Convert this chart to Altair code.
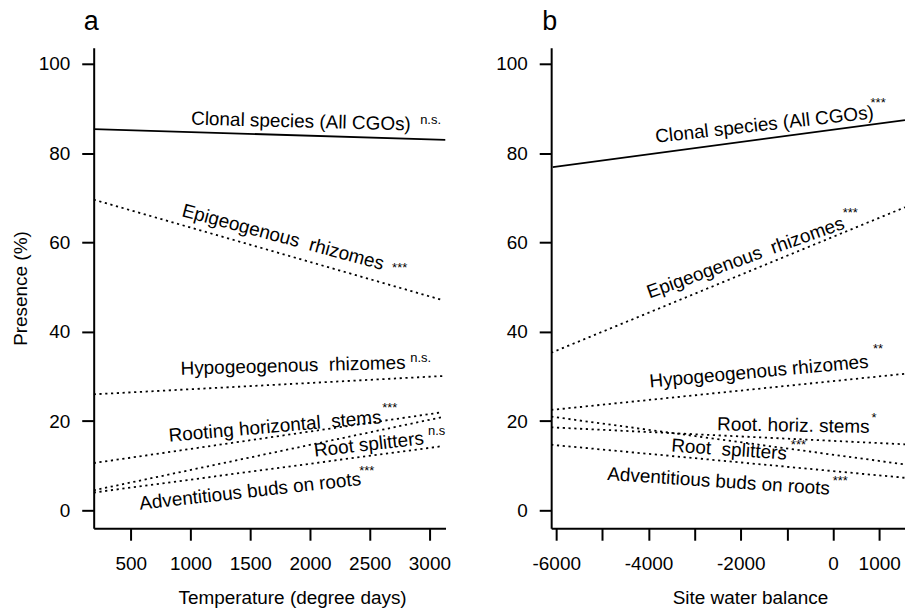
import altair as alt
import pandas as pd

FONT = "Liberation Sans"

# ---------------- data ----------------
series = ["Clonal", "Epigeogenous", "Hypogeogenous", "Rooting", "RootSplitters", "Adventitious"]
line_style = ["solid", "dotted", "dotted", "dotted", "dotted", "dotted"]

# Panel a: temperature (degree days)
temp_x_start = [190, 190, 190, 190, 190, 190]
temp_x_end = [3135, 3110, 3110, 3110, 3110, 3110]
temp_y_start = [85.4, 69.6, 26.0, 10.6, 4.5, 4.0]
temp_y_end = [83.0, 47.1, 30.1, 22.0, 20.9, 14.4]

temp_labels = ["Clonal species (All CGOs)", "Epigeogenous\u00a0 rhizomes", "Hypogeogenous\u00a0 rhizomes",
               "Rooting horizontal\u00a0 stems", "Root splitters", "Adventitious buds on roots"]
temp_label_x = [1925, 1775, 1859, 1708, 2493, 1500]
temp_label_y = [87.1, 61.2, 32.4, 18.8, 14.75, 4.26]
temp_label_angle = [1.5, 15, 358.5, 355, 353.5, 353.6]
temp_sig = ["n.s.", "***", "n.s.", "***", "n.s", "***"]
temp_sig_x = [3010, 2751, 2927, 2668, 3060, 2476]
temp_sig_y = [88.0, 54.9, 34.8, 23.5, 18.5, 9.6]

# Panel b: site water balance
water_x_start = [-6075, -6110, -6110, -6110, -6110, -6110]
water_x_end = [1560, 1560, 1560, 1560, 1560, 1560]
water_y_start = [76.9, 35.3, 22.5, 18.6, 21.0, 14.7]
water_y_end = [87.4, 67.9, 30.6, 14.8, 10.3, 7.3]

water_labels = ["Clonal species (All CGOs)", "Epigeogenous\u00a0 rhizomes", "Hypogeogenous rhizomes",
                "Root. horiz. stems", "Root\u00a0 splitters", "Adventitious buds on roots"]
water_label_x = [-1486, -1897, -1605, -860, -2253, -2480]
water_label_y = [86.4, 56.6, 31.1, 19.0, 13.6, 6.5]
water_label_angle = [353.6, 340.3, 354.8, 1, 4, 3.8]
water_sig = ["***", "***", "**", "*", "***", "***"]
water_sig_x = [977, 372, 977, 890, -751, 156]
water_sig_y = [91.9, 67.2, 36.9, 21.4, 15.3, 7.3]

y_ticks = [0, 20, 40, 60, 80, 100]
temp_ticks = [500, 1000, 1500, 2000, 2500, 3000]
water_ticks = [-6000, -5000, -4000, -3000, -2000, -1000, 0, 1000]


def lines_df(xs, xe, ys, ye):
    rows = []
    for s, st, a, b, c, d in zip(series, line_style, xs, xe, ys, ye):
        rows.append({"series": s, "style": st, "x": a, "y": c, "order": 0})
        rows.append({"series": s, "style": st, "x": b, "y": d, "order": 1})
    return pd.DataFrame(rows)


def panel(df_lines, labels, lx, ly, la, sig, sx, sy, xdomain, xaxis, ytitle, letter, letter_dx, width):
    xscale = alt.Scale(domain=xdomain, nice=False, zero=False)
    yscale = alt.Scale(domain=[-4, 103.6], nice=False, zero=False)
    yaxis = alt.Axis(values=y_ticks, grid=False, tickSize=12, labelPadding=12,
                     title=ytitle, titlePadding=8, titleFontSize=19, titleFontWeight="normal")
    base = alt.Chart(df_lines)
    solid = base.transform_filter(alt.datum.style == "solid").mark_line(
        color="black", strokeWidth=1.8, clip=True
    ).encode(
        x=alt.X("x:Q", scale=xscale, axis=xaxis),
        y=alt.Y("y:Q", scale=yscale, axis=yaxis),
        detail="series:N", order="order:Q",
    )
    dotted = base.transform_filter(alt.datum.style == "dotted").mark_line(
        color="black", strokeWidth=1.8, strokeDash=[2.2, 3.6], clip=True
    ).encode(
        x=alt.X("x:Q", scale=xscale),
        y=alt.Y("y:Q", scale=yscale),
        detail="series:N", order="order:Q",
    )
    lab_df = pd.DataFrame({"label": labels, "x": lx, "y": ly, "angle": la})
    labs = alt.Chart(lab_df).mark_text(
        font=FONT, fontSize=19, color="black", align="center", baseline="middle"
    ).encode(
        x=alt.X("x:Q", scale=xscale), y=alt.Y("y:Q", scale=yscale),
        text="label:N", angle=alt.Angle("angle:Q", scale=None),
    )
    sig_df = pd.DataFrame({"sig": sig, "x": sx, "y": sy})
    sigs = alt.Chart(sig_df).mark_text(
        font=FONT, fontSize=13, color="black", align="center", baseline="middle", dy=3
    ).encode(
        x=alt.X("x:Q", scale=xscale), y=alt.Y("y:Q", scale=yscale), text="sig:N",
    )
    letter_df = pd.DataFrame({"letter": [letter]})
    let = alt.Chart(letter_df).mark_text(
        font=FONT, fontSize=27, color="black", align="left", baseline="alphabetic"
    ).encode(x=alt.value(letter_dx), y=alt.value(-18), text="letter:N")
    return alt.layer(solid, dotted, labs, sigs, let).properties(width=width, height=482)


axis_a = alt.Axis(values=temp_ticks, format="d", grid=False, tickSize=12, labelPadding=14,
                  title="Temperature (degree days)", titlePadding=15, titleX=199,
                  titleFontSize=19, titleFontWeight="normal")
axis_b = alt.Axis(values=water_ticks, grid=False, tickSize=12, labelPadding=14,
                  labelExpr="(datum.value % 2000 == 0 || datum.value == 1000) ? toString(datum.value) : ''",
                  title="Site water balance", titlePadding=15, titleX=199.5,
                  titleFontSize=19, titleFontWeight="normal")

pa = panel(lines_df(temp_x_start, temp_x_end, temp_y_start, temp_y_end),
           temp_labels, temp_label_x, temp_label_y, temp_label_angle,
           temp_sig, temp_sig_x, temp_sig_y, [190, 3135], axis_a, "Presence (%)", "a", -10, 353)
pb = panel(lines_df(water_x_start, water_x_end, water_y_start, water_y_end),
           water_labels, water_label_x, water_label_y, water_label_angle,
           water_sig, water_sig_x, water_sig_y, [-6110, 1560], axis_b, None, "b", -9, 355)

chart = alt.hconcat(pa, pb, spacing=45).properties(
    padding={"left": 11, "top": 7, "right": 0, "bottom": 0}
).configure(font=FONT).configure_view(stroke=None).configure_axis(
    domainColor="black", domainWidth=2, tickColor="black", tickWidth=2,
    labelColor="black", labelFontSize=19, labelFont=FONT, titleFont=FONT, titleColor="black",
)

chart.save("out.html", embed_options={"renderer": "svg", "actions": False})
